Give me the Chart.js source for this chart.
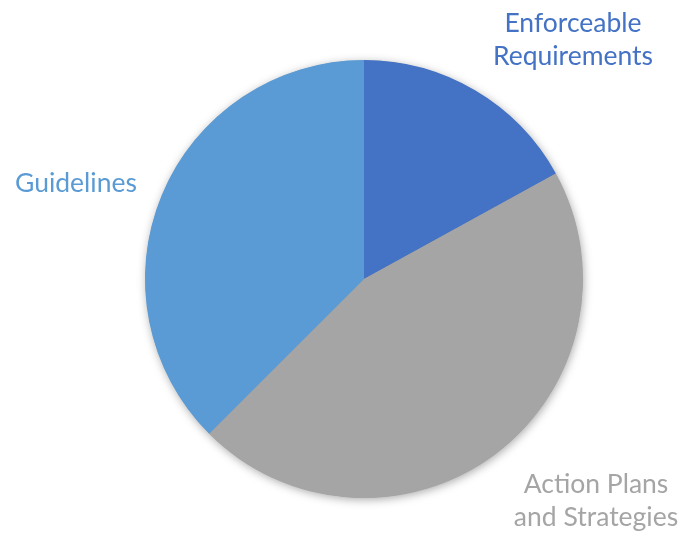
<!DOCTYPE html>
<html>
<head>
<meta charset="utf-8">
<script src="https://cdn.jsdelivr.net/npm/chart.js@4/dist/chart.umd.min.js"></script>
<style>
  html, body { margin: 0; padding: 0; background: #fff; }
  #wrap { width: 685px; height: 536px; position: relative; }
</style>
</head>
<body>
<div id="wrap"><canvas id="c" width="685" height="536"></canvas></div>
<script>
const categories = ["Enforceable Requirements", "Action Plans and Strategies", "Guidelines"];
const labelLines = [["Enforceable", "Requirements"], ["Action Plans", "and Strategies"], ["Guidelines"]];
const shares = [17, 45.5, 37.5];
const sliceColors = ["#4472C4", "#A5A5A5", "#5B9BD5"];

// label placement (text anchor centre, first baseline), in page pixels
const labelPos = [
  { x: 573, y: 32 },
  { x: 596, y: 493 },
  { x: 76, y: 192 }
];

const shadowPlugin = {
  id: 'pieShadow',
  beforeDatasetsDraw(chart) {
    const arc = chart.getDatasetMeta(0).data[0];
    if (!arc) return;
    const ctx = chart.ctx;
    ctx.save();
    ctx.shadowColor = 'rgba(0,0,0,0.35)';
    ctx.shadowBlur = 10;
    ctx.shadowOffsetX = 1;
    ctx.shadowOffsetY = 2;
    ctx.fillStyle = '#999';
    ctx.beginPath();
    ctx.arc(arc.x, arc.y, arc.outerRadius - 0.5, 0, Math.PI * 2);
    ctx.fill();
    ctx.restore();
  }
};

const labelPlugin = {
  id: 'outerLabels',
  afterDraw(chart) {
    const ctx = chart.ctx;
    ctx.save();
    ctx.font = '26.5px Lato';
    ctx.textAlign = 'center';
    ctx.textBaseline = 'alphabetic';
    labelLines.forEach((lines, i) => {
      ctx.fillStyle = sliceColors[i];
      lines.forEach((t, j) => {
        ctx.fillText(t, labelPos[i].x, labelPos[i].y + j * 32.5);
      });
    });
    ctx.restore();
  }
};

new Chart(document.getElementById('c'), {
  type: 'pie',
  data: {
    labels: categories,
    datasets: [{
      data: shares,
      backgroundColor: sliceColors,
      borderWidth: 0,
      hoverOffset: 0
    }]
  },
  options: {
    responsive: false,
    animation: false,
    layout: { padding: { top: 60, bottom: 38, left: 145, right: 102 } },
    plugins: {
      legend: { display: false },
      tooltip: { enabled: false }
    }
  },
  plugins: [shadowPlugin, labelPlugin]
});
</script>
</body>
</html>
